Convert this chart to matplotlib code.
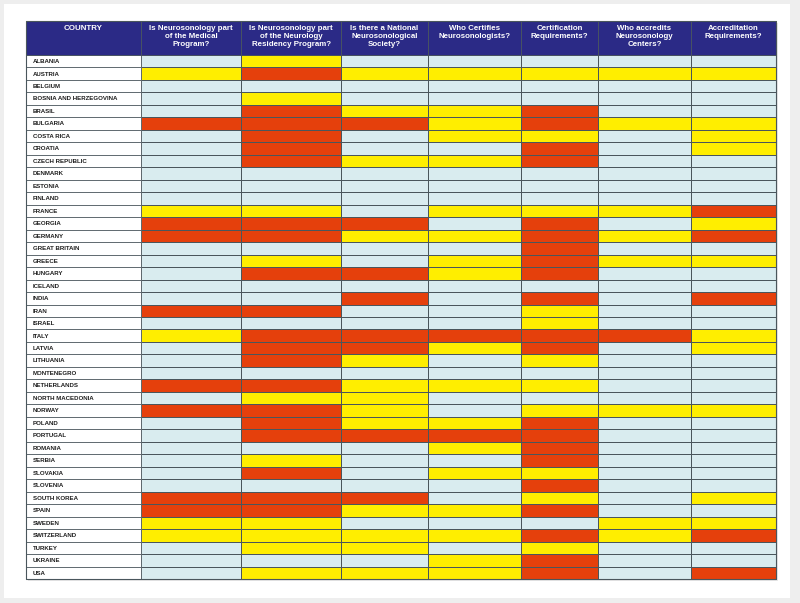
import matplotlib
matplotlib.use("Agg")
import matplotlib.pyplot as plt
import numpy as np
from matplotlib.colors import ListedColormap, BoundaryNorm
from matplotlib.patches import Rectangle

countries = ["ALBANIA", "AUSTRIA", "BELGIUM", "BOSNIA AND HERZEGOVINA", "BRASIL",
             "BULGARIA", "COSTA RICA", "CROATIA", "CZECH REPUBLIC", "DENMARK",
             "ESTONIA", "FINLAND", "FRANCE", "GEORGIA", "GERMANY", "GREAT BRITAIN",
             "GREECE", "HUNGARY", "ICELAND", "INDIA", "IRAN", "ISRAEL", "ITALY",
             "LATVIA", "LITHUANIA", "MONTENEGRO", "NETHERLANDS", "NORTH MACEDONIA",
             "NORWAY", "POLAND", "PORTUGAL", "ROMANIA", "SERBIA", "SLOVAKIA",
             "SLOVENIA", "SOUTH KOREA", "SPAIN", "SWEDEN", "SWITZERLAND", "TURKEY",
             "UKRAINE", "USA"]

headers = ["COUNTRY",
           "Is Neurosonology part\nof the Medical\nProgram?",
           "Is Neurosonology part\nof the Neurology\nResidency Program?",
           "Is there a National\nNeurosonological\nSociety?",
           "Who Certifies\nNeurosonologists?",
           "Certification\nRequirements?",
           "Who accredits\nNeurosonology\nCenters?",
           "Accreditation\nRequirements?"]

# 0 = light blue, 1 = yellow, 2 = red
medical   = [0,1,0,0,0,2,0,0,0,0,0,0,1,2,2,0,0,0,0,0,2,0,1,0,0,0,2,0,2,0,0,0,0,0,0,2,2,1,1,0,0,0]
residency = [1,2,0,1,2,2,2,2,2,0,0,0,1,2,2,0,1,2,0,0,2,0,2,2,2,0,2,1,2,2,2,0,1,2,0,2,2,1,1,1,0,1]
society   = [0,1,0,0,1,2,0,0,1,0,0,0,0,2,1,0,0,2,0,2,0,0,2,2,1,0,1,1,1,1,2,0,0,0,0,2,1,0,1,1,0,1]
certifies = [0,1,0,0,1,1,1,0,1,0,0,0,1,0,1,0,1,1,0,0,0,0,2,1,0,0,1,0,0,1,2,1,0,1,0,0,1,0,1,0,1,1]
cert_req  = [0,1,0,0,2,2,1,2,2,0,0,0,1,2,2,2,2,2,0,2,1,1,2,2,1,0,1,0,1,2,2,2,2,1,2,1,2,0,2,1,2,2]
accredits = [0,1,0,0,0,1,0,0,0,0,0,0,1,0,1,0,1,0,0,0,0,0,2,0,0,0,0,0,1,0,0,0,0,0,0,0,0,1,1,0,0,0]
accr_req  = [0,1,0,0,0,1,1,1,0,0,0,0,2,1,2,0,1,0,0,2,0,0,1,1,0,0,0,0,1,0,0,0,0,0,0,1,0,1,2,0,0,2]

series = [medical, residency, society, certifies, cert_req, accredits, accr_req]

# ---- layout (pixels) ----
W, H = 800, 603
col_edges = [26, 141, 241, 341, 428, 521, 598, 691, 776]
top, head_bot, bottom = 21, 55, 579
line_c = "#4a565c"
lw = 0.55

fig = plt.figure(figsize=(W / 100, H / 100), dpi=100)
fig.patch.set_facecolor("#eeeeee")
bg = fig.add_axes([0, 0, 1, 1])
bg.set_xlim(0, W); bg.set_ylim(H, 0); bg.axis("off")
bg.add_patch(Rectangle((4, 4), 786, 594, facecolor="white", edgecolor="none"))
bg.add_patch(Rectangle((28, 23), 750, 558, facecolor="#e8e8e8", edgecolor="none"))

ax = fig.add_axes([0, 0, 1, 1], facecolor="none")
ax.set_xlim(0, W); ax.set_ylim(H, 0); ax.axis("off")

n = len(countries)
row_h = (bottom - head_bot) / n
y_edges = head_bot + np.arange(n + 1) * row_h

data = np.array(series).T  # rows x cols
cmap = ListedColormap(["#d9ecef", "#ffee00", "#e5400c"])
norm = BoundaryNorm([-0.5, 0.5, 1.5, 2.5], 3)
ax.pcolormesh(col_edges[1:], y_edges, data, cmap=cmap, norm=norm,
              edgecolor=line_c, linewidth=lw)

# country column
for i, c in enumerate(countries):
    ax.add_patch(Rectangle((col_edges[0], y_edges[i]), col_edges[1] - col_edges[0], row_h,
                           facecolor="white", edgecolor=line_c, linewidth=lw))
    ax.text(col_edges[0] + 7, y_edges[i] + row_h / 2 + 0.3, c, fontsize=4.45,
            fontweight="bold", family="Liberation Sans", color="#1e1e1e",
            ha="left", va="center")

# header
for j, h in enumerate(headers):
    x0, x1 = col_edges[j], col_edges[j + 1]
    ax.add_patch(Rectangle((x0, top), x1 - x0, head_bot - top, facecolor="#2b2a86",
                           edgecolor=line_c, linewidth=lw))
    ax.text((x0 + x1) / 2, top + 3.5, h, fontsize=5.7, fontweight="bold",
            family="Liberation Sans", color="white", ha="center", va="top",
            linespacing=1.25)

ax.add_patch(Rectangle((col_edges[0], top), col_edges[-1] - col_edges[0], bottom - top,
                       facecolor="none", edgecolor=line_c, linewidth=0.8))

fig.savefig("out.png", dpi=100, facecolor=fig.get_facecolor())
